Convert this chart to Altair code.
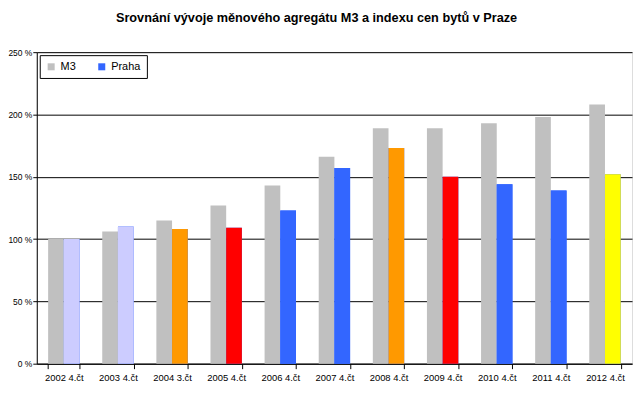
import altair as alt
import pandas as pd

categories = ["2002 4.čt", "2003 4.čt", "2004 3.čt", "2005 4.čt", "2006 4.čt", "2007 4.čt",
              "2008 4.čt", "2009 4.čt", "2010 4.čt", "2011 4.čt", "2012 4.čt"]
m3 = [100, 106, 115, 127, 143, 166, 189, 189, 193, 198, 208]
praha = [100, 110, 108, 109, 123, 157, 173, 150, 144, 139, 152]
praha_colors = ["#CCCCFF", "#CCCCFF", "#FF9900", "#FF0000", "#3366FF", "#3366FF",
                "#FF9900", "#FF0000", "#3366FF", "#3366FF", "#FFFF00"]
series = ["M3", "Praha"]
series_colors = ["#C0C0C0", "#3366FF"]

rows = []
for c, a, b, col in zip(categories, m3, praha, praha_colors):
    rows.append({"cat": c, "series": "M3", "val": a, "col": "#C0C0C0"})
    rows.append({"cat": c, "series": "Praha", "val": b, "col": col})
df = pd.DataFrame(rows)
df_praha = df[df.series == "Praha"]

FONT = "Liberation Sans"

x = alt.X("cat:N", sort=categories,
          scale=alt.Scale(paddingInner=0.42, paddingOuter=0.21),
          axis=alt.Axis(title=None, labelAngle=0, tickBand="extent",
                        domainColor="black", tickColor="black", tickSize=5,
                        labelFontSize=9.5, labelColor="black", labelFont=FONT,
                        labelPadding=4))
y = alt.Y("val:Q", scale=alt.Scale(domain=[0, 250]),
          axis=alt.Axis(title=None, values=[0, 50, 100, 150, 200, 250],
                        labelExpr="datum.value + ' %'", grid=True, gridColor="black",
                        gridOpacity=1, domainColor="black", tickColor="black", tickSize=4,
                        labelFontSize=8.5, labelColor="black", labelFont=FONT,
                        labelPadding=1))
xo = alt.XOffset("series:N", sort=series, scale=alt.Scale(domain=series, paddingInner=0, paddingOuter=0))

base = alt.Chart(df).mark_bar().encode(
    x=x, y=y, xOffset=xo,
    color=alt.Color("series:N", scale=alt.Scale(domain=series, range=series_colors),
                    legend=alt.Legend(title=None, orient="none", legendX=3, legendY=3,
                                      direction="horizontal", strokeColor="black",
                                      fillColor="white", padding=6, symbolType="square",
                                      symbolSize=50, symbolStrokeWidth=0,
                                      labelFontSize=11, labelFont=FONT, labelColor="black",
                                      columnPadding=20, symbolOpacity=1)),
)
overlay = alt.Chart(df_praha).mark_bar().encode(
    x=x, y=y, xOffset=xo,
    fill=alt.Fill("col:N", scale=None),
)

chart = alt.layer(base, overlay).properties(
    width=600, height=314,
    autosize=alt.AutoSizeParams(type="none"),
    padding={"left": 29, "top": 43, "right": 4, "bottom": 25},
    title=alt.TitleParams("Srovnání vývoje měnového agregátu M3 a indexu cen bytů v Praze",
                          font=FONT, fontSize=12.8, fontWeight="bold", color="black",
                          anchor="middle", offset=24, dx=-18),
).configure_view(stroke="#808080", strokeWidth=1).configure(background="white")

chart.save("out.html", embed_options={"renderer": "svg", "actions": False})
